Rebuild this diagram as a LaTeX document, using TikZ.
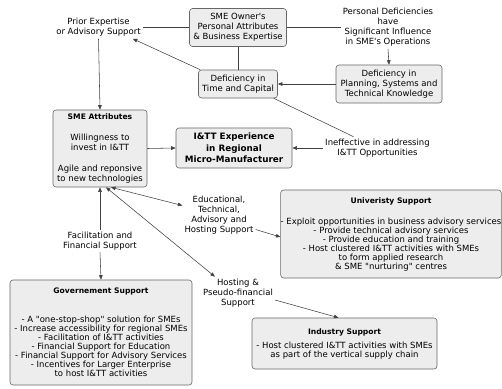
\documentclass[tikz,border=0pt]{standalone}
\usepackage{fontspec}
\setmainfont{DejaVu Sans}[Ligatures=TeXOff]
\usetikzlibrary{arrows.meta}
\newcommand\boxtitle[1]{{\fontsize{7.6}{9}\selectfont\bfseries #1}}
\begin{document}
\begin{tikzpicture}[x=1pt,y=-1pt,
  every node/.style={inner sep=2pt, align=center, font=\fontsize{8.5}{10}\selectfont},
  box/.style={draw=black!60, fill=black!7, rounded corners=3pt, line width=0.6pt, inner sep=0pt},
  listbox/.style={box, font=\fontsize{8.5}{9}\selectfont},
  bigbox/.style={box, font=\fontsize{8.8}{11.5}\selectfont\bfseries},
  link/.style={draw=black!75, line width=0.55pt},
  tip/.tip={Triangle[length=4.5pt,width=3.6pt]},
  arr/.style={link, -tip},
  twoway/.style={link, tip-tip}]
\useasboundingbox (0,0) rectangle (502,388);

% top row: owner and the two statements beside it
\node[box, minimum width=97pt, minimum height=38pt] (owner) at (238,27.5)
  {SME Owner's\\Personal Attributes\\\& Business Expertise};
\node (prior) at (98.5,27.5) {Prior Expertise\\or Advisory Support};
\node (persdef) at (388,27.5) {Personal Deficiencies\\have\\Significant Influence\\in SME's Operations};

% deficiencies
\node[box, minimum width=79pt, minimum height=28pt] (timecap) at (238,84)
  {Deficiency in\\Time and Capital};
\node[box, minimum width=106pt, minimum height=38pt] (plan) at (389,84)
  {Deficiency in\\Planning, Systems and\\Technical Knowledge};

% middle row
\node[box, minimum width=94pt, minimum height=77pt] (attr) at (100,148.5)
  {\boxtitle{SME Attributes}\\[11pt]Willingness to\\invest in I\&TT\\[11pt]Agile and reponsive\\to new technologies};
\node[bigbox, minimum width=116pt, minimum height=40pt] (exp) at (234,148)
  {I\&TT Experience\\in Regional\\Micro-Manufacturer};
\node (ineff) at (377.5,148) {Ineffective in addressing\\I\&TT Opportunities};

% support channels
\node (edu) at (219,215.5) {Educational,\\Technical,\\Advisory and\\Hosting Support};
\node (facil) at (100,241) {Facilitation and\\Financial Support};
\node (hosting) at (238,293) {Hosting \&\\Pseudo-financial\\Support};

% support providers
\node[listbox, minimum width=218pt, minimum height=88pt] (univ) at (391,234)
  {\boxtitle{Univeristy Support}\\[12pt]- Exploit opportunities in business advisory services\\- Provide technical advisory services\\- Provide education and training\\- Host clustered I\&TT activities with SMEs\\to form applied research\\\& SME "nurturing" centres};
\node[listbox, minimum width=182pt, minimum height=105pt] (gov) at (101,332.5)
  {\boxtitle{Governement Support}\\[20pt]- A "one-stop-shop" solution for SMEs\\- Increase accessibility for regional SMEs\\- Facilitation of I\&TT activities\\- Financial Support for Education\\- Financial Support for Advisory Services\\- Incentives for Larger Enterprise\\to host I\&TT activities};
\node[listbox, minimum width=185pt, minimum height=51pt] (ind) at (344.5,343.5)
  {\boxtitle{Industry Support}\\[5pt]- Host clustered I\&TT activities with SMEs\\as part of the vertical supply chain};

% connectors
\draw[link] (owner.west) -- (prior.east);
\draw[link] (owner.east) -- (persdef.west);
\draw[link] (owner.south) -- (timecap.north);
\draw[arr] (persdef.south) -- (plan.north);
\draw[arr] (plan.west) -- (timecap.east);
\draw[arr] ([xshift=2pt]timecap.north west) -- ([xshift=-10pt]prior.south east);
\draw[arr] (prior.south) -- (attr.north);
\draw[link] ([xshift=-4pt]timecap.south east) -- ([xshift=-24pt]ineff.north);
\draw[arr] (ineff.west) -- (exp.east);
\draw[arr] (attr.east) -- (exp.west);
\draw[twoway] ([xshift=11pt]attr.south) -- ([yshift=10pt]edu.west);
\draw[arr] ([yshift=-14pt]edu.east) -- ([yshift=-3pt]univ.west);
\draw[arr] (facil.north) -- (attr.south);
\draw[arr] (facil.south) -- (gov.north);
\draw[twoway] ([xshift=6pt]attr.south) -- ([xshift=14pt]hosting.north west);
\draw[arr] ([yshift=-7pt]hosting.east) -- ([xshift=-6pt]ind.north);
\end{tikzpicture}
\end{document}
